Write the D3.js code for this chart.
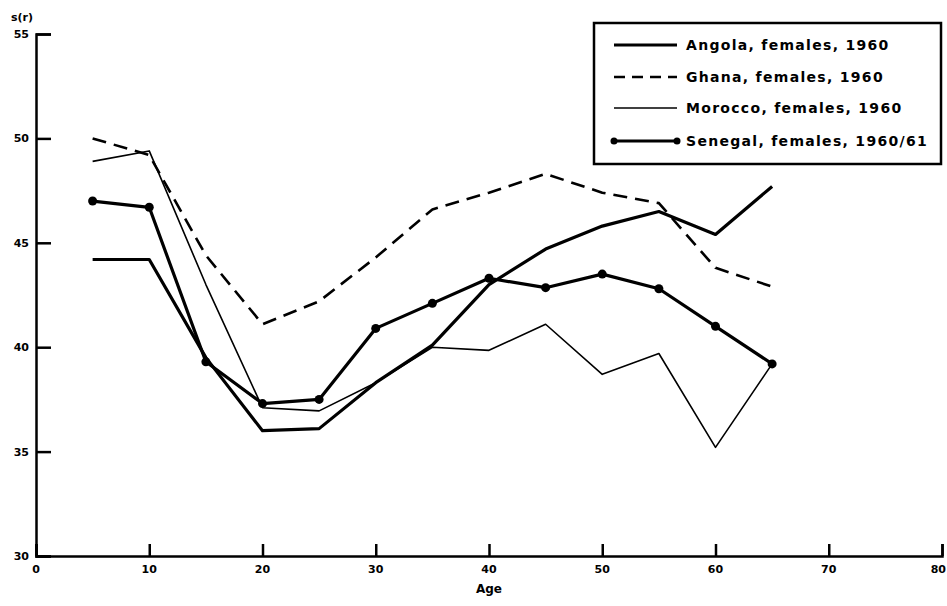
<!DOCTYPE html>
<html>
<head>
<meta charset="utf-8">
<script src="https://cdn.jsdelivr.net/npm/d3@7"></script>
<style>
  body { margin: 0; background: #fff; }
  text { font-family: "DejaVu Sans", Arial, sans-serif; font-weight: bold; fill: #000; }
</style>
</head>
<body>
<script>
// data
var ages = [5, 10, 15, 20, 25, 30, 35, 40, 45, 50, 55, 60, 65];
var angola  = [44.2, 44.2, 39.5, 36.0, 36.1, 38.3, 40.1, 43.0, 44.7, 45.8, 46.5, 45.4, 47.7];
var ghana   = [50.0, 49.2, 44.4, 41.1, 42.2, 44.3, 46.6, 47.4, 48.3, 47.4, 46.9, 43.8, 42.9];
var morocco = [48.9, 49.4, 43.0, 37.1, 36.95, 38.3, 40.0, 39.85, 41.1, 38.7, 39.7, 35.2, 39.2];
var senegal = [47.0, 46.7, 39.3, 37.3, 37.5, 40.9, 42.1, 43.3, 42.85, 43.5, 42.8, 41.0, 39.2];
var seriesNames = ["Angola, females, 1960", "Ghana, females, 1960",
                   "Morocco, females, 1960", "Senegal, females, 1960/61"];
var xTicks = [0, 10, 20, 30, 40, 50, 60, 70, 80];
var yTicks = [30, 35, 40, 45, 50, 55];

var width = 947, height = 606;
var svg = d3.select("body").append("svg")
    .attr("width", width)
    .attr("height", height);

var x = d3.scaleLinear().domain([0, 80]).range([36, 942]);
var y = d3.scaleLinear().domain([30, 55]).range([556, 34]);

// axes (ticks point inward like the original)
svg.append("g")
    .attr("transform", "translate(0," + y(30) + ")")
    .call(d3.axisTop(x).tickValues(xTicks).tickSize(12).tickFormat(""));
svg.append("g")
    .attr("transform", "translate(" + x(0) + ",0)")
    .call(d3.axisRight(y).tickValues(yTicks).tickSize(15).tickFormat(""));
svg.selectAll(".domain").attr("stroke", "#000").attr("stroke-width", 2.5);
svg.selectAll(".tick line").attr("stroke", "#000").attr("stroke-width", 2.5);

// tick labels (last one pulled in so it stays on the page)
svg.selectAll(".xlab").data(xTicks).enter().append("text")
    .attr("x", function(d) { return d == 80 ? x(d) + 4 : x(d); })
    .attr("y", 573)
    .attr("text-anchor", function(d) { return d == 80 ? "end" : "middle"; })
    .attr("font-size", 11)
    .text(function(d) { return d; });
svg.selectAll(".ylab").data(yTicks).enter().append("text")
    .attr("x", 29)
    .attr("y", function(d) { return y(d) + 4; })
    .attr("text-anchor", "end")
    .attr("font-size", 11)
    .text(function(d) { return d; });

svg.append("text")
    .attr("x", x(40))
    .attr("y", 593)
    .attr("text-anchor", "middle")
    .attr("font-size", 12)
    .text("Age");
svg.append("text")
    .attr("x", 11)
    .attr("y", 21)
    .attr("font-size", 11)
    .text("s(r)");

// lines
var line = d3.line()
    .x(function(d, i) { return x(ages[i]); })
    .y(function(d) { return y(d); });

var styles = [
  {data: angola,  width: 3.2, dash: null},
  {data: ghana,   width: 2.6, dash: "14,8"},
  {data: morocco, width: 1.6, dash: null},
  {data: senegal, width: 3.2, dash: null}
];

styles.forEach(function(s) {
  svg.append("path")
      .datum(s.data)
      .attr("fill", "none")
      .attr("stroke", "#000")
      .attr("stroke-width", s.width)
      .attr("stroke-dasharray", s.dash)
      .attr("stroke-linejoin", "round")
      .attr("d", line);
});

svg.selectAll(".dot").data(senegal).enter().append("circle")
    .attr("cx", function(d, i) { return x(ages[i]); })
    .attr("cy", function(d) { return y(d); })
    .attr("r", 4.5)
    .attr("fill", "#000");

// legend
var legend = svg.append("g");
legend.append("rect")
    .attr("x", 594).attr("y", 23)
    .attr("width", 347).attr("height", 141)
    .attr("fill", "#fff")
    .attr("stroke", "#000")
    .attr("stroke-width", 2.5);

var rowY = [45, 77, 108, 141];
styles.forEach(function(s, i) {
  legend.append("line")
      .attr("x1", 614).attr("x2", 677)
      .attr("y1", rowY[i]).attr("y2", rowY[i])
      .attr("stroke", "#000")
      .attr("stroke-width", s.width)
      .attr("stroke-dasharray", s.dash ? "11,7" : null);
  if (i == 3) {
    legend.selectAll(".ldot").data([614, 677]).enter().append("circle")
        .attr("cx", function(d) { return d; })
        .attr("cy", rowY[i])
        .attr("r", 3.5)
        .attr("fill", "#000");
  }
  legend.append("text")
      .attr("x", 686)
      .attr("y", rowY[i] + 5)
      .attr("font-size", 14)
      .attr("letter-spacing", 1.3)
      .text(seriesNames[i]);
});
</script>
</body>
</html>
